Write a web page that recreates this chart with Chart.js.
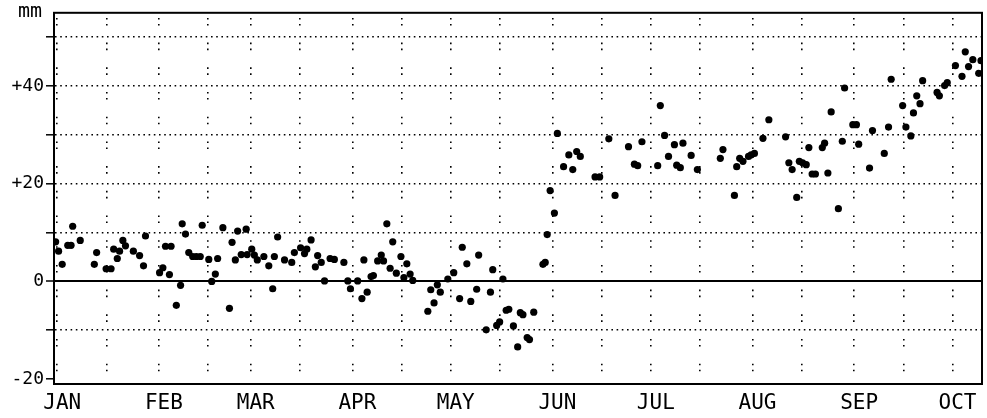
<!DOCTYPE html>
<html>
<head>
<meta charset="utf-8">
<title>mm by month</title>
<script src="https://cdn.jsdelivr.net/npm/chart.js@4.4.1/dist/chart.umd.min.js"></script>
<style>
  body { margin: 0; background: #fff; }
  canvas { display: block; }
</style>
</head>
<body>
<canvas id="chart" width="987" height="418"></canvas>
<script>
// x is day of the year (0 = 1 Jan), y is mm
const monthNames = ['JAN', 'FEB', 'MAR', 'APR', 'MAY', 'JUN', 'JUL', 'AUG', 'SEP', 'OCT'];
const monthStarts = [0, 31, 59, 90, 120, 151, 181, 212, 243, 273];

const yTickValues = [-20, -10, 0, 10, 20, 30, 40, 50];
const yTickText = ['-20', '', '0', '', '+20', '', '+40', ''];

const obsDay = [
  -0.5, 0.4, 1.5, 3.2, 4.2, 4.7, 7.0, 11.3, 12.0, 14.9,
  16.4, 17.2, 18.3, 19.0, 20.0, 20.8, 23.2, 25.1, 26.3, 26.9,
  31.2, 32.2, 33.0, 34.7, 34.2, 36.3, 37.6, 38.1, 39.1, 40.1,
  41.3, 42.4, 43.6, 44.2, 46.2, 47.1, 48.2, 48.9, 50.5, 52.5,
  53.3, 54.3, 55.0, 56.1, 57.6, 57.9, 59.3, 60.1, 61.0, 63.0,
  64.5, 65.7, 66.2, 67.2, 69.3, 71.5, 72.3, 74.2, 75.4, 76.1,
  77.4, 78.7, 79.4, 80.5, 81.5, 83.2, 84.5, 87.4, 88.6, 89.4,
  91.6, 92.9, 93.5, 94.5, 95.7, 96.4, 97.7, 98.8, 99.5, 100.5,
  101.5, 102.3, 103.4, 104.8, 105.7, 106.6, 107.6, 108.4, 113.0, 113.9,
  114.9, 115.9, 116.8, 119.1, 120.9, 122.7, 123.5, 124.9, 126.1, 127.9,
  128.5, 130.8, 132.1, 132.8, 134.0, 134.9, 135.9, 136.9, 137.7, 139.1,
  140.4, 141.2, 142.0, 143.3, 144.0, 145.3, 148.1, 148.8, 149.4, 150.3,
  151.6, 152.5, 154.4, 156.0, 157.2, 158.4, 159.5, 164.0, 165.4, 168.2,
  170.1, 174.2, 176.0, 177.0, 178.3, 183.1, 183.9, 185.2, 186.4, 188.2,
  188.9, 190.0, 190.8, 193.3, 195.2, 202.2, 203.0, 206.5, 207.2, 208.1,
  209.1, 210.8, 211.6, 212.6, 215.2, 217.0, 222.1, 223.1, 224.1, 225.5,
  226.3, 227.3, 228.4, 229.2, 230.2, 231.2, 233.3, 234.0, 235.0, 236.0,
  238.2, 239.4, 240.1, 242.6, 243.7, 244.4, 247.7, 248.6, 252.2, 253.5,
  254.3, 257.8, 258.8, 260.3, 261.1, 262.1, 263.1, 263.9, 268.3, 269.0,
  270.6, 271.4, 273.9, 275.9, 276.9, 277.9, 279.2, 281.0, 281.7
];
const obsMm = [
  8.1, 6.2, 3.5, 7.4, 7.4, 11.3, 8.4, 3.5, 5.9, 2.6,
  2.6, 6.6, 4.7, 6.2, 8.4, 7.3, 6.2, 5.3, 3.2, 9.3,
  1.8, 2.8, 7.2, 7.2, 1.4, -4.9, -0.8, 11.8, 9.7, 5.9,
  5.1, 5.1, 5.1, 11.5, 4.5, 0.0, 1.5, 4.7, 11.0, -5.5,
  8.0, 4.4, 10.3, 5.5, 10.7, 5.5, 6.6, 5.4, 4.4, 5.1,
  3.2, -1.5, 5.1, 9.1, 4.4, 3.9, 5.9, 6.9, 5.7, 6.6,
  8.5, 3.0, 5.3, 3.9, 0.1, 4.7, 4.5, 3.9, 0.1, -1.5,
  0.1, -3.5, 4.4, -2.2, 1.0, 1.2, 4.2, 5.4, 4.2, 11.8,
  2.7, 8.1, 1.7, 5.1, 0.8, 3.6, 1.5, 0.2, -6.1, -1.7,
  -4.4, -0.7, -2.2, 0.5, 1.8, -3.5, 7.0, 3.6, -4.1, -1.6,
  5.4, -9.9, -2.2, 2.4, -9.0, -8.3, 0.5, -5.9, -5.7, -9.1,
  -13.4, -6.4, -6.8, -11.5, -11.9, -6.3, 3.5, 3.9, 9.6, 18.6,
  14.0, 30.3, 23.5, 25.9, 22.9, 26.6, 25.6, 21.4, 21.4, 29.2,
  17.6, 27.6, 24.0, 23.7, 28.6, 23.7, 36.0, 29.9, 25.6, 28.0,
  23.8, 23.3, 28.3, 25.8, 22.9, 25.2, 27.0, 17.6, 23.5, 25.2,
  24.6, 25.6, 25.9, 26.2, 29.3, 33.1, 29.6, 24.3, 22.9, 17.2,
  24.6, 24.3, 23.9, 27.4, 22.0, 22.0, 27.4, 28.3, 22.2, 34.7,
  14.9, 28.7, 39.6, 32.1, 32.1, 28.1, 23.2, 30.9, 26.2, 31.6,
  41.4, 36.0, 31.6, 29.8, 34.5, 38.0, 36.4, 41.1, 38.7, 38.0,
  40.1, 40.7, 44.2, 42.0, 47.0, 44.0, 45.4, 42.6, 45.2
];

const points = obsDay.map((d, i) => ({ x: d, y: obsMm[i] }));

// grid line at every month start and half way through the month
const xGridDays = [];
monthStarts.forEach(d => {
  xGridDays.push(d);
  if (d + 15 < 282) xGridDays.push(d + 15);
});

const FONT = "'DejaVu Sans Mono', monospace";

// box round the plot + the little "mm" unit
const framePlugin = {
  id: 'frame',
  afterDraw(chart) {
    const { ctx, chartArea: a } = chart;
    ctx.save();
    ctx.strokeStyle = '#000';
    ctx.lineWidth = 2;
    ctx.strokeRect(a.left, a.top, a.right - a.left, a.bottom - a.top);
    ctx.fillStyle = '#000';
    ctx.font = '20px ' + FONT;
    ctx.textAlign = 'center';
    ctx.textBaseline = 'middle';
    ctx.fillText('mm', a.left - 24, a.top - 1);
    ctx.restore();
  }
};

new Chart(document.getElementById('chart'), {
  type: 'scatter',
  data: {
    datasets: [{
      data: points,
      backgroundColor: '#000',
      borderColor: '#000',
      borderWidth: 0,
      pointRadius: 3.6,
      pointHoverRadius: 3.6
    }]
  },
  options: {
    responsive: false,
    animation: false,
    devicePixelRatio: 1,
    layout: { padding: { top: 9, right: 5, left: 0, bottom: 0 } },
    plugins: { legend: { display: false }, tooltip: { enabled: false } },
    scales: {
      x: {
        type: 'linear',
        min: -1,
        max: 282,
        afterBuildTicks: s => { s.ticks = xGridDays.map(v => ({ value: v })); },
        afterFit: s => { s.height = 34; },
        ticks: {
          autoSkip: false,
          maxRotation: 0,
          padding: 7,
          labelOffset: 5,
          color: '#000',
          font: { family: FONT, size: 21 },
          callback: v => {
            const i = monthStarts.indexOf(v);
            return i >= 0 ? monthNames[i] : '';
          }
        },
        grid: { color: '#000', lineWidth: 1.6, drawTicks: false },
        border: { display: true, color: '#000', width: 2, dash: [1.6, 4.4, 1.6, 17.1], dashOffset: 19.6 }
      },
      y: {
        min: -21,
        max: 55,
        afterBuildTicks: s => { s.ticks = yTickValues.map(v => ({ value: v })); },
        afterFit: s => { s.width = 54; },
        ticks: {
          padding: 2,
          color: '#000',
          font: { family: FONT, size: 18 },
          callback: (v, i) => yTickText[i]
        },
        grid: {
          color: c => (c.tick && c.tick.value === -20) ? 'rgba(0,0,0,0)' : '#000',
          lineWidth: c => (c.tick && c.tick.value === 0) ? 2 : 1.6,
          drawTicks: true,
          tickLength: 8,
          tickColor: '#000',
          tickWidth: 1.5
        },
        border: {
          display: true, color: '#000', width: 2,
          dash: c => (c.tick && c.tick.value === 0) ? [] : [1.6, 3.6]
        }
      }
    }
  },
  plugins: [framePlugin]
});
</script>
</body>
</html>
